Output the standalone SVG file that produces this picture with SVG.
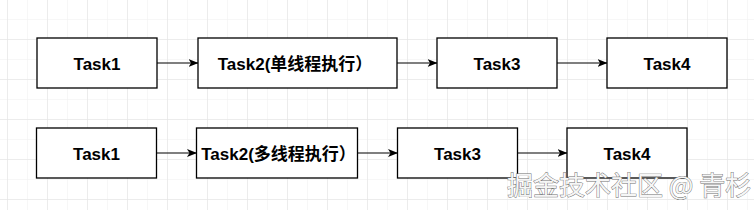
<svg xmlns="http://www.w3.org/2000/svg" width="754" height="210" viewBox="0 0 754 210">
  <defs>
    <pattern id="minor" x="7" y="19" width="20" height="20" patternUnits="userSpaceOnUse">
      <path d="M0 0V20M0 0H20" fill="none" stroke="#f0f0f0" stroke-width="1"/>
    </pattern>
    <pattern id="major" x="7" y="39" width="40" height="40" patternUnits="userSpaceOnUse">
      <path d="M0 0V40M0 0H40" fill="none" stroke="#e2e2e2" stroke-width="1"/>
    </pattern>
    <marker id="arrow" viewBox="0 0 10 10" refX="9.5" refY="5" markerWidth="10" markerHeight="10" markerUnits="userSpaceOnUse" orient="auto">
      <path d="M0 1L10 5L0 9L2.5 5Z" fill="#000"/>
    </marker>
  </defs>
  <style>
    .box { fill: #fff; stroke: #000; stroke-width: 1.3; }
    .lbl { font-family: "Liberation Sans", Arial, "Noto Sans CJK SC", sans-serif; font-weight: bold; font-size: 17px; fill: #000; text-anchor: middle; }
    .edge { fill: none; stroke: #000; stroke-width: 1.2; marker-end: url(#arrow); }
    .wm { font-family: "Noto Sans CJK SC", sans-serif; font-size: 26px; fill: #f6f6f6; stroke: #707070; stroke-width: 0.9; paint-order: stroke; }
  </style>
  <rect width="754" height="210" fill="#fff"/>
  <rect width="754" height="210" fill="url(#minor)"/>
  <rect width="754" height="210" fill="url(#major)"/>

  <g id="connectors">
    <line class="edge" x1="157" y1="63" x2="198" y2="63"/>
    <line class="edge" x1="397" y1="63" x2="437" y2="63"/>
    <line class="edge" x1="557" y1="63" x2="607" y2="63"/>
    <line class="edge" x1="156.5" y1="153" x2="196.5" y2="153"/>
    <line class="edge" x1="357.5" y1="153" x2="397.5" y2="153"/>
    <line class="edge" x1="517" y1="153" x2="567" y2="153"/>
  </g>

  <g id="r1-task1"><rect class="box" x="37" y="38" width="120" height="50"/><text class="lbl" x="97" y="69.5">Task1</text></g>
  <g id="r1-task2"><rect class="box" x="198" y="38" width="199" height="50"/><text class="lbl" x="295" y="69.5">Task2(单线程执行）</text></g>
  <g id="r1-task3"><rect class="box" x="437" y="38" width="120" height="50"/><text class="lbl" x="497" y="69.5">Task3</text></g>
  <g id="r1-task4"><rect class="box" x="607" y="38" width="120" height="50"/><text class="lbl" x="667" y="69.5">Task4</text></g>

  <g id="r2-task1"><rect class="box" x="36.5" y="128" width="120" height="50"/><text class="lbl" x="96.5" y="159.5">Task1</text></g>
  <g id="r2-task2"><rect class="box" x="196.5" y="128" width="161" height="50"/><text class="lbl" x="278.5" y="159.5">Task2(多线程执行）</text></g>
  <g id="r2-task3"><rect class="box" x="397.5" y="128" width="120" height="50"/><text class="lbl" x="457.5" y="159.5">Task3</text></g>
  <g id="r2-task4"><rect class="box" x="567" y="128" width="120" height="50"/><text class="lbl" x="627" y="159.5">Task4</text></g>

  <text class="wm" x="507" y="195">掘金技术社区 @ 青杉</text>
</svg>
